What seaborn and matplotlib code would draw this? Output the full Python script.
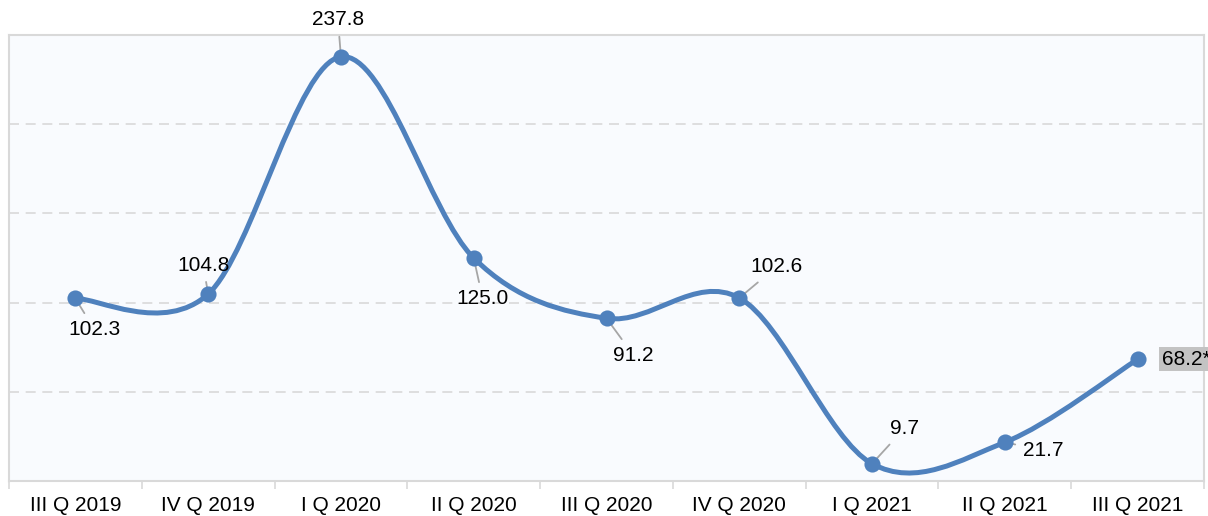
import numpy as np
import pandas as pd
import seaborn as sns
import matplotlib.pyplot as plt
from matplotlib.path import Path
from matplotlib.patches import PathPatch

# data
quarters = ["III Q 2019", "IV Q 2019", "I Q 2020", "II Q 2020", "III Q 2020",
            "IV Q 2020", "I Q 2021", "II Q 2021", "III Q 2021"]
values = [102.3, 104.8, 237.8, 125.0, 91.2, 102.6, 9.7, 21.7, 68.2]
value_labels = ["102.3", "104.8", "237.8", "125.0", "91.2", "102.6", "9.7", "21.7", "68.2*"]

# label offsets from the point, in pixels (layout only)
label_offsets = [(19, -31), (-5, 29), (-3, 37), (9, -41), (27, -37),
                 (37, 31), (32, 35), (38, -8), (24, 0)]

blue = "#4F81BD"
grey = "#D9D9D9"

sns.set_theme(style="white")
plt.rcParams["font.family"] = ["Liberation Sans", "DejaVu Sans"]

df = pd.DataFrame({"pos": np.arange(len(quarters)), "value": values})

fig = plt.figure(figsize=(12.08, 5.16), dpi=100)
ax = fig.add_axes([9 / 1208, 35 / 516, 1195 / 1208, 446 / 516])
ax.set_facecolor("#F9FBFE")

# smoothed line, Excel-style cubic Bezier through the points
pts = df[["pos", "value"]].to_numpy(dtype=float)
n = len(pts)
verts = [pts[0]]
codes = [Path.MOVETO]
for i in range(n - 1):
    p0 = pts[max(i - 1, 0)]
    p1 = pts[i]
    p2 = pts[i + 1]
    p3 = pts[min(i + 2, n - 1)]
    c1 = p1 + (p2 - p0) / 6
    c2 = p2 - (p3 - p1) / 6
    verts += [c1, c2, p2]
    codes += [Path.CURVE4] * 3
ax.add_patch(PathPatch(Path(verts, codes), fc="none", ec=blue, lw=3.6,
                       capstyle="round", joinstyle="round", zorder=3))

sns.scatterplot(data=df, x="pos", y="value", ax=ax, s=135, color=blue,
                edgecolor=blue, linewidth=0, zorder=4, legend=False)

# data labels with leader lines
for i, (v, lab) in enumerate(zip(values, value_labels)):
    dx, dy = label_offsets[i]
    if i == len(values) - 1:
        ax.annotate(lab, (i, v), xytext=(dx, dy), textcoords="offset pixels",
                    ha="left", va="center", fontsize=15, color="black",
                    annotation_clip=False,
                    bbox=dict(boxstyle="square,pad=0.12", fc="#C3C3C3", ec="none"))
    else:
        ax.annotate(lab, (i, v), xytext=(dx, dy), textcoords="offset pixels",
                    ha="center", va="center", fontsize=15, color="black",
                    annotation_clip=False,
                    arrowprops=dict(arrowstyle="-", color="#A6A6A6", lw=1.3,
                                    shrinkA=3, shrinkB=0))

ax.set_xlim(-0.5, n - 0.5)
ax.set_ylim(0, 250)
ax.set_yticks([50, 100, 150, 200])
ax.set_yticklabels([])
ax.yaxis.grid(True, linestyle=(0, (6, 4)), color=grey, lw=1.2)
ax.xaxis.grid(False)
ax.tick_params(axis="y", length=0)

ax.set_xticks(np.arange(n))
ax.set_xticklabels(quarters, fontsize=15, color="black")
ax.set_xticks(np.arange(-0.5, n, 1.0), minor=True)
ax.tick_params(axis="x", which="major", length=0, pad=11)
ax.tick_params(axis="x", which="minor", length=6, width=1.2, color=grey,
               direction="out", bottom=True)
ax.set_xlabel("")
ax.set_ylabel("")

for sp in ax.spines.values():
    sp.set_visible(True)
    sp.set_color(grey)
    sp.set_linewidth(1.5)

fig.savefig("out.png", dpi=100)
